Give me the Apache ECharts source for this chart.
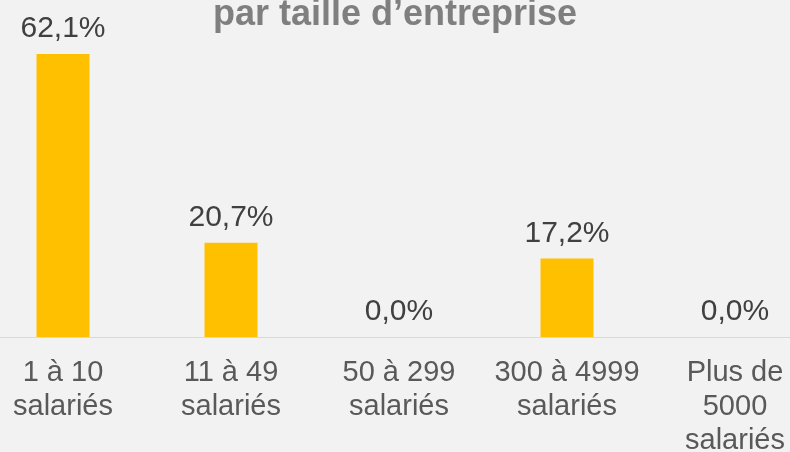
<!DOCTYPE html>
<html>
<head>
<meta charset="utf-8">
<script src="https://cdn.jsdelivr.net/npm/echarts@6/dist/echarts.min.js"></script>
<style>
  html, body { margin: 0; padding: 0; background: #f2f2f2; }
  #chart { width: 790px; height: 452px; }
</style>
</head>
<body>
<div id="chart"></div>
<script>
// catégories et valeurs (%)
const categories = ['1 à 10\nsalariés', '11 à 49\nsalariés', '50 à 299\nsalariés', '300 à 4999\nsalariés', 'Plus de\n5000\nsalariés']
const values = [62.1, 20.7, 0.0, 17.2, 0.0]
const titleText = 'par taille d\u2019entreprise'

const chart = echarts.init(document.getElementById('chart'))

const option = {
  backgroundColor: '#f2f2f2',
  animation: false,
  title: {
    text: titleText,
    left: 'center',
    top: -8,
    textStyle: {
      fontFamily: 'Liberation Sans, Arial',
      fontWeight: 'bold',
      fontSize: 36,
      color: '#7f7f7f'
    }
  },
  // la grille dépasse volontairement du cadre à gauche et à droite
  grid: {
    left: -21,
    width: 840,
    top: 18,
    bottom: 115,
    outerBoundsMode: 'none'
  },
  xAxis: {
    type: 'category',
    data: categories,
    axisLine: { lineStyle: { color: '#d9d9d9', width: 1 } },
    axisTick: { show: false },
    axisLabel: {
      interval: 0,
      margin: 19,
      fontFamily: 'Liberation Sans, Arial',
      fontSize: 29,
      lineHeight: 34,
      color: '#595959'
    }
  },
  yAxis: {
    type: 'value',
    min: 0,
    max: 70,
    show: false,
    splitLine: { show: false }
  },
  series: [
    {
      type: 'bar',
      data: values,
      barWidth: 53,
      itemStyle: { color: '#ffc000' },
      label: {
        show: true,
        position: 'top',
        distance: 10,
        fontFamily: 'Liberation Sans, Arial',
        fontSize: 30,
        color: '#404040',
        formatter: p => p.value.toFixed(1).replace('.', ',') + '%'
      }
    }
  ]
}

chart.setOption(option)
</script>
</body>
</html>
